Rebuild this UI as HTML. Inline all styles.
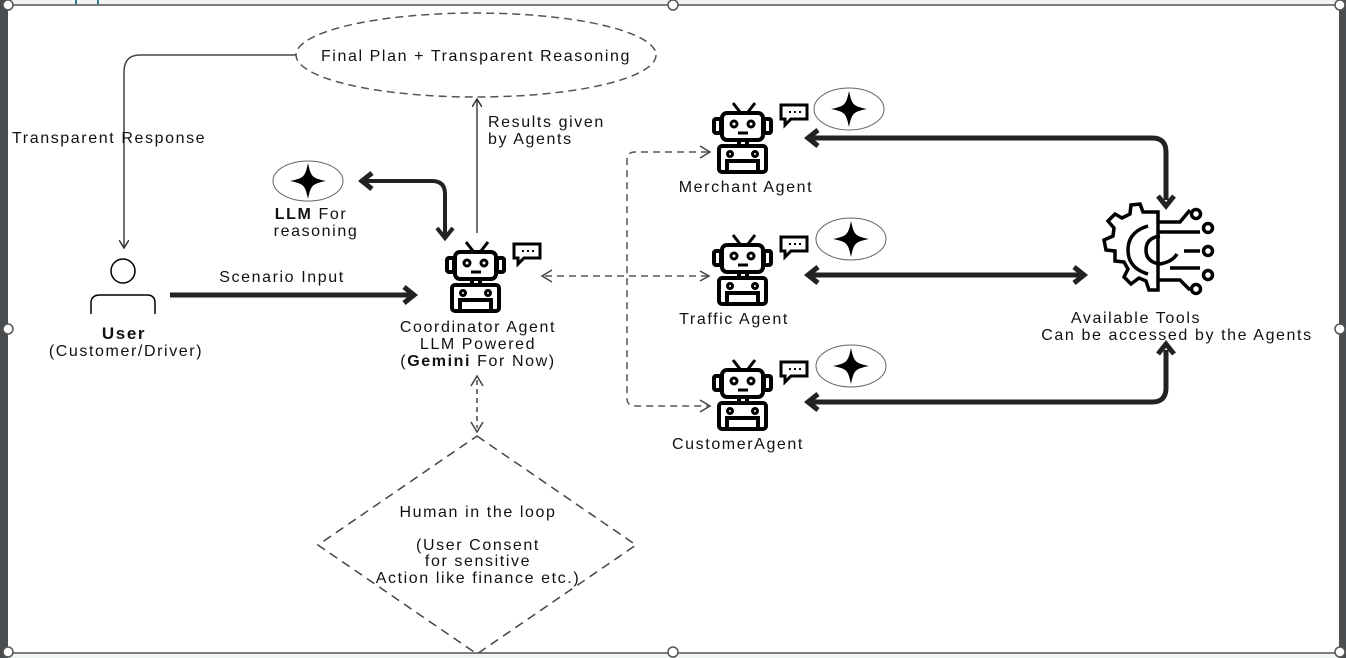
<!DOCTYPE html>
<html><head><meta charset="utf-8"><style>
body{margin:0;width:1346px;height:658px;overflow:hidden;background:#fff;font-family:"Liberation Sans",sans-serif}
svg{display:block}
text{font-family:"Liberation Sans",sans-serif;font-size:16px;letter-spacing:1.6px;fill:#111}
</style></head><body>
<svg width="1346" height="658" viewBox="0 0 1346 658">
<defs>
<g id="robot" fill="none" stroke="#000" stroke-width="4">
<line x1="20" y1="0" x2="27" y2="9" stroke-width="3"/><line x1="42" y1="0" x2="35" y2="9" stroke-width="3"/>
<rect x="9" y="10" width="41" height="27" rx="5"/>
<rect x="1" y="16" width="7" height="14" rx="2"/><rect x="51" y="16" width="7" height="14" rx="2"/>
<circle cx="21" cy="21" r="3" stroke-width="3"/><circle cx="38" cy="21" r="3" stroke-width="3"/>
<line x1="25" y1="30" x2="35" y2="30" stroke-width="3"/>
<line x1="26" y1="37" x2="26" y2="43"/><line x1="34" y1="37" x2="34" y2="43"/>
<rect x="6" y="43" width="47" height="26" rx="3"/>
<circle cx="17" cy="51" r="2.5" stroke-width="3"/><circle cx="42" cy="51" r="2.5" stroke-width="3"/>
<rect x="14" y="58" width="31" height="11"/>
<path d="M68 2h26v14h-16l-6 6v-6h-4z" stroke-width="3"/>
<line x1="76" y1="9" x2="78" y2="9" stroke-width="2"/><line x1="81" y1="9" x2="83" y2="9" stroke-width="2"/><line x1="86" y1="9" x2="88" y2="9" stroke-width="2"/>
</g>
<g id="star"><path d="M0 -18 C3 -4 4 -3 18 0 C4 3 3 4 0 18 C-3 4 -4 3 -18 0 C-4 -3 -3 -4 0 -18Z" fill="#000"/></g>
<marker id="ah" markerWidth="10" markerHeight="10" refX="7" refY="5" orient="auto" markerUnits="userSpaceOnUse"><path d="M0 0L8 5L0 10" fill="none" stroke="#333" stroke-width="1.5"/></marker>
<marker id="ahd" markerWidth="12" markerHeight="12" refX="9" refY="6" orient="auto" markerUnits="userSpaceOnUse"><path d="M1 1L10 6L1 11" fill="none" stroke="#444" stroke-width="1.5"/></marker>
<marker id="aht" markerWidth="20" markerHeight="20" refX="10" refY="10" orient="auto" markerUnits="userSpaceOnUse"><path d="M2 2L12 10L2 18" fill="none" stroke="#222" stroke-width="5"/></marker>
</defs>
<rect x="0" y="0" width="1346" height="5" fill="#f1f4f5"/>
<rect x="0" y="653" width="1346" height="5" fill="#f1f4f5"/>
<rect x="0" y="0" width="8" height="658" fill="#4a4d50"/>
<rect x="1339" y="0" width="7" height="658" fill="#4a4d50"/>
<line x1="8" y1="5" x2="1340" y2="5" stroke="#555" stroke-width="1.5"/>
<line x1="8" y1="653" x2="1340" y2="653" stroke="#555" stroke-width="1.5"/>
<rect x="75" y="0" width="2" height="5" fill="#3a7a8a"/><rect x="97" y="0" width="2" height="5" fill="#3a7a8a"/>
<g fill="#fff" stroke="#555" stroke-width="1.5">
<circle cx="8" cy="5" r="5"/><circle cx="673" cy="5" r="5"/><circle cx="1340" cy="5" r="5"/>
<circle cx="8" cy="329" r="5"/><circle cx="1340" cy="329" r="5"/>
<circle cx="8" cy="652" r="5"/><circle cx="673" cy="652" r="5"/><circle cx="1340" cy="652" r="5"/>
</g>

<ellipse cx="476" cy="55" rx="180" ry="42" fill="none" stroke="#555" stroke-width="1.5" stroke-dasharray="8 5"/>
<text x="476" y="61" text-anchor="middle">Final Plan + Transparent Reasoning</text>
<path d="M296 55H140Q124 55 124 72V247" fill="none" stroke="#444" stroke-width="1.5" marker-end="url(#ah)"/>
<text x="12" y="143">Transparent  Response</text>

<circle cx="123" cy="271" r="12" fill="none" stroke="#000" stroke-width="1.5"/>
<path d="M91 314V303Q91 295 100 295H147Q155 295 155 303V314" fill="none" stroke="#000" stroke-width="1.5"/>
<text x="124" y="339" text-anchor="middle" style="font-weight:bold;font-size:17px">User</text>
<text x="126" y="356" text-anchor="middle">(Customer/Driver)</text>

<line x1="170" y1="295" x2="412" y2="295" stroke="#222" stroke-width="5" marker-end="url(#aht)"/>
<text x="282" y="282" text-anchor="middle">Scenario Input</text>

<use href="#robot" x="446" y="242"/>
<text x="478" y="332" text-anchor="middle">Coordinator Agent</text>
<text x="478" y="349" text-anchor="middle">LLM Powered</text>
<text x="478" y="366" text-anchor="middle">(<tspan style="font-weight:bold">Gemini</tspan> For Now)</text>
<line x1="477" y1="233" x2="477" y2="100" stroke="#444" stroke-width="1.5" marker-end="url(#ah)"/>
<text x="488" y="127">Results given</text><text x="488" y="144">by Agents</text>

<ellipse cx="308" cy="181" rx="35" ry="20" fill="none" stroke="#666" stroke-width="1"/>
<use href="#star" x="308" y="181"/>
<path d="M445 235V194Q445 181 432 181H364" fill="none" stroke="#222" stroke-width="4" marker-end="url(#aht)"/>
<path d="M437 228L445 238L453 228" fill="none" stroke="#222" stroke-width="4"/>
<text x="311" y="219" text-anchor="middle"><tspan style="font-weight:bold">LLM</tspan> For</text>
<text x="316" y="236" text-anchor="middle">reasoning</text>

<line x1="477" y1="380" x2="477" y2="428" stroke="#444" stroke-width="1.5" stroke-dasharray="5 4"/>
<path d="M471 386L477 376L483 386M471 422L477 432L483 422" fill="none" stroke="#444" stroke-width="1.5"/>
<path d="M477 436L636 545L477 654L318 545Z" fill="none" stroke="#444" stroke-width="1.5" stroke-dasharray="9 6"/>
<text x="478" y="517" text-anchor="middle">Human in the loop</text>
<text x="478" y="550" text-anchor="middle">(User Consent</text>
<text x="478" y="566" text-anchor="middle">for sensitive</text>
<text x="478" y="583" text-anchor="middle">Action like finance etc.)</text>

<g fill="none" stroke="#555" stroke-width="1.5" stroke-dasharray="7 5">
<line x1="545" y1="276" x2="708" y2="276" marker-end="url(#ahd)"/>
<path d="M708 152H635Q627 152 627 160V398Q627 406 635 406H708"/>
</g>
<path d="M552 270L542 276L552 282" fill="none" stroke="#444" stroke-width="1.5"/>
<path d="M700 146L710 152L700 158M700 400L710 406L700 412" fill="none" stroke="#444" stroke-width="1.5"/>

<use href="#robot" x="713" y="103"/>
<text x="746" y="192" text-anchor="middle">Merchant Agent</text>
<use href="#robot" x="713" y="235"/>
<text x="734" y="324" text-anchor="middle">Traffic Agent</text>
<use href="#robot" x="713" y="360"/>
<text x="738" y="449" text-anchor="middle">CustomerAgent</text>
<g fill="none" stroke="#666" stroke-width="1">
<ellipse cx="849" cy="109" rx="35" ry="21"/><ellipse cx="851" cy="239" rx="35" ry="21"/><ellipse cx="851" cy="366" rx="35" ry="21"/>
</g>
<use href="#star" x="849" y="109"/><use href="#star" x="851" y="239"/><use href="#star" x="851" y="366"/>

<g fill="none" stroke="#222" stroke-width="5">
<path d="M810 138H1152Q1166 138 1166 152V200"/>
<path d="M810 275H1080"/>
<path d="M810 402H1152Q1166 402 1166 388V350"/>
<path d="M818 130L808 138L818 146"/>
<path d="M1158 196L1166 206L1174 196"/>
<path d="M818 267L808 275L818 283"/>
<path d="M1074 267L1084 275L1074 283"/>
<path d="M818 394L808 402L818 410"/>
<path d="M1158 354L1166 344L1174 354"/>
</g>

<g fill="none" stroke="#000" stroke-width="3.5">
<path d="M1158 212V290H1149L1146 281L1139 278L1131 284L1124 277L1128 269L1124 262L1115 261L1115 251L1106 250L1104 240L1113 236L1114 228L1108 221L1115 214L1122 218L1130 214L1131 205L1140 204L1143 212Z"/>
<path d="M1148 226Q1128 232 1128 250Q1128 268 1148 274"/>
<path d="M1160 236Q1146 238 1146 250Q1146 262 1160 264Q1172 262 1177 254"/>
<path d="M1158 222L1180 222L1190 210"/><circle cx="1196" cy="214" r="4.5"/>
<path d="M1158 232L1200 232"/><circle cx="1208" cy="228" r="4.5"/>
<path d="M1184 251L1200 251"/><circle cx="1208" cy="251" r="4.5"/>
<path d="M1170 268L1200 268"/><circle cx="1208" cy="275" r="4.5"/>
<path d="M1158 280L1180 280L1190 290"/><circle cx="1196" cy="289" r="4.5"/>
</g>
<text x="1136" y="323" text-anchor="middle">Available Tools</text>
<text x="1177" y="340" text-anchor="middle">Can be accessed by the Agents</text>
</svg>
</body></html>
